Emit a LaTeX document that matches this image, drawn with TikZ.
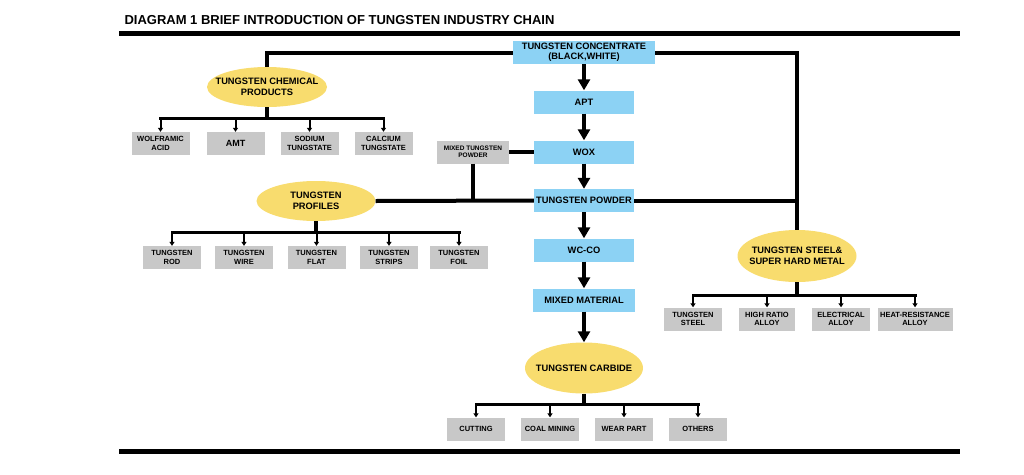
\documentclass[tikz,border=0pt]{standalone}
\usepackage{fontspec}
\setmainfont{Liberation Sans}
\usetikzlibrary{shapes.geometric,arrows.meta}
\definecolor{stepblue}{RGB}{140,210,244}
\definecolor{prodgray}{RGB}{200,200,200}
\definecolor{groupyellow}{RGB}{248,220,110}
\begin{document}
\begin{tikzpicture}[x=1pt,y=-1pt,
  flow/.style={fill=stepblue,minimum width=100pt,minimum height=23pt,inner sep=1pt,align=center,font=\fontsize{9.3}{10}\selectfont\bfseries},
  prod/.style={fill=prodgray,minimum width=58pt,minimum height=23pt,inner sep=1pt,align=center,font=\fontsize{7.5}{8.5}\selectfont\bfseries},
  group/.style={ellipse,fill=groupyellow,minimum width=120pt,minimum height=40pt,inner xsep=-10pt,inner ysep=0pt,align=center,font=\fontsize{9.3}{10.5}\selectfont\bfseries},
  trunk/.style={line width=4pt},
  bar/.style={line width=3pt,line cap=rect},
  twig/.style={line width=2pt,-{Triangle[width=5pt,length=4pt]}},
  spine/.style={line width=4pt,-{Triangle[width=12pt,length=11pt]}},
  rule/.style={line width=5pt}]
\useasboundingbox (0,0) rectangle (1024,474);
\node[anchor=west,font=\fontsize{13}{13}\selectfont\bfseries] (title) at (121,20) {DIAGRAM 1 BRIEF INTRODUCTION OF TUNGSTEN INDUSTRY CHAIN};
\draw[rule](119,33)--(960,33);
\draw[rule](119,451)--(960,451);
% main chain
\node[flow,minimum width=142pt] (conc) at (584,52.5) {TUNGSTEN CONCENTRATE\\(BLACK,WHITE)};
\node[flow] (apt) at (584,102) {APT};
\node[flow] (wox) at (584,152) {WOX};
\node[flow] (powder) at (584,200.5) {TUNGSTEN POWDER};
\node[flow] (wcco) at (584,250) {WC-CO};
\node[flow,minimum width=102pt] (mixmat) at (584,300) {MIXED MATERIAL};
\node[group,minimum width=118pt,minimum height=51pt] (carbide) at (584,368) {TUNGSTEN CARBIDE};
\foreach \a/\b in {conc/apt,apt/wox,wox/powder,powder/wcco,wcco/mixmat,mixmat/carbide}
  \draw[spine](\a.south)--(\b.north);
% groups
\node[group] (chem) at (267,87) {TUNGSTEN CHEMICAL\\PRODUCTS};
\node[group,minimum width=119pt] (profiles) at (316,201) {TUNGSTEN\\PROFILES};
\node[group,minimum width=119pt,minimum height=52pt] (steel) at (797,256) {TUNGSTEN STEEL\&\\SUPER HARD METAL};
\node[prod,minimum width=72pt,font=\fontsize{6.5}{7.5}\selectfont\bfseries] (mixpow) at (473,152) {MIXED TUNGSTEN\\POWDER};
\draw[trunk](conc.west)-|(chem.north);
\draw[trunk](conc.east)-|(steel.north);
\draw[trunk](powder.west)--(profiles.east);
\draw[trunk](powder.east)--(powder.east-|steel.north);
\draw[trunk](mixpow.east)--(wox.west);
\draw[trunk](mixpow.south)--(mixpow.south|-powder.west);
% chemical products
\node[prod] (wolf) at (160.5,143.5) {WOLFRAMIC\\ACID};
\node[prod,font=\fontsize{9}{10}\selectfont\bfseries] (amt) at (235.5,143.5) {AMT};
\node[prod] (sodium) at (309.5,143.5) {SODIUM\\TUNGSTATE};
\node[prod] (calcium) at (383.5,143.5) {CALCIUM\\TUNGSTATE};
\coordinate (chembar) at (267,118);
\draw[trunk](chem.south)--(chembar);
\draw[bar](wolf.north|-chembar)--(calcium.north|-chembar);
\foreach \b in {wolf,amt,sodium,calcium}
  \draw[twig](\b.north|-chembar)--(\b.north);
% profiles
\node[prod] (rod) at (172,257.5) {TUNGSTEN\\ROD};
\node[prod] (wire) at (244,257.5) {TUNGSTEN\\WIRE};
\node[prod] (flat) at (316.5,257.5) {TUNGSTEN\\FLAT};
\node[prod] (strips) at (389,257.5) {TUNGSTEN\\STRIPS};
\node[prod] (foil) at (459,257.5) {TUNGSTEN\\FOIL};
\coordinate (profbar) at (316,232);
\draw[trunk](profiles.south)--(profbar);
\draw[bar](rod.north|-profbar)--(foil.north|-profbar);
\foreach \b in {rod,wire,flat,strips,foil}
  \draw[twig](\b.north|-profbar)--(\b.north);
% steel and hard metal
\node[prod] (tsteel) at (693,319) {TUNGSTEN\\STEEL};
\node[prod,minimum width=56pt] (highratio) at (767,319) {HIGH RATIO\\ALLOY};
\node[prod] (electrical) at (841,319) {ELECTRICAL\\ALLOY};
\node[prod,minimum width=75pt] (heatres) at (915,319) {HEAT-RESISTANCE\\ALLOY};
\coordinate (steelbar) at (797,295);
\draw[trunk](steel.south)--(steelbar);
\draw[bar](tsteel.north|-steelbar)--(heatres.north|-steelbar);
\foreach \b in {tsteel,highratio,electrical,heatres}
  \draw[twig](\b.north|-steelbar)--(\b.north);
% carbide uses
\node[prod] (cutting) at (476,429) {CUTTING};
\node[prod] (coal) at (550,429) {COAL MINING};
\node[prod] (wear) at (624,429) {WEAR PART};
\node[prod] (others) at (698,429) {OTHERS};
\coordinate (carbbar) at (584,404);
\draw[trunk](carbide.south)--(carbbar);
\draw[bar](cutting.north|-carbbar)--(others.north|-carbbar);
\foreach \b in {cutting,coal,wear,others}
  \draw[twig](\b.north|-carbbar)--(\b.north);
\end{tikzpicture}
\end{document}
